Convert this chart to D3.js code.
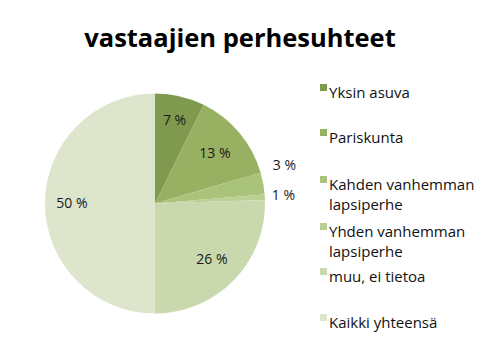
<!DOCTYPE html>
<html><head><meta charset="utf-8">
<script src="https://cdn.jsdelivr.net/npm/d3@7"></script>
<style>body{margin:0;background:#fff}svg{display:block}text{font-family:"Open Sans","Noto Sans",sans-serif}</style>
</head><body>
<svg id="c" width="495" height="354"></svg>
<script>
const title = "vastaajien perhesuhteet";
const categories = ["Yksin asuva","Pariskunta","Kahden vanhemman lapsiperhe","Yhden vanhemman lapsiperhe","muu, ei tietoa","Kaikki yhteensä"];
const legendLines = [["Yksin asuva"],["Pariskunta"],["Kahden vanhemman","lapsiperhe"],["Yhden vanhemman","lapsiperhe"],["muu, ei tietoa"],["Kaikki yhteensä"]];
const values = [7.3, 13.2, 3.2, 0.8, 25.5, 50];
const labels = ["7 %","13 %","3 %","1 %","26 %","50 %"];
const colors = ["#7f9a4e","#97b062","#a9c47a","#b9d095","#c9d9ad","#dde5cd"];

const svg = d3.select("#c");
svg.append("text").attr("x",240).attr("y",47).attr("text-anchor","middle")
  .attr("font-size",25.5).attr("font-weight","bold").attr("fill","#000").text(title);

const cx=155, cy=203.5, r=110;
const pie = d3.pie().sort(null).value(d=>d)(values);
const arc = d3.arc().innerRadius(0).outerRadius(r);
const g = svg.append("g").attr("transform",`translate(${cx},${cy})`);
g.selectAll("path").data(pie).join("path").attr("d",arc).attr("fill",(d,i)=>colors[i]);

const labelRadius = [0.78,0.71,1.2,1.2,0.72,0.755];
const labelShiftX = [0,0,-12,-15,0,0];
const labelShiftY = [0,0,-14,-1,0,0];
g.selectAll("text.l").data(pie).join("text").attr("class","l")
  .attr("transform",(d,i)=>{
    const a=(d.startAngle+d.endAngle)/2; const rr=r*labelRadius[i];
    const x=Math.sin(a)*rr+labelShiftX[i], y=-Math.cos(a)*rr+labelShiftY[i];
    return `translate(${x},${y})`;})
  .attr("text-anchor",(d,i)=> i===2||i===3 ? "start":"middle")
  .attr("dy","0.35em").attr("font-size",14).attr("fill","#1a1a1a")
  .text((d,i)=>labels[i]);

const legendY = [93,138,185,232,277,323];
const lg = svg.append("g");
legendLines.forEach((lines,i)=>{
  lg.append("rect").attr("x",320).attr("y",legendY[i]-9).attr("width",7).attr("height",7).attr("fill",colors[i]);
  lines.forEach((t,j)=>{
    lg.append("text").attr("x",329).attr("y",legendY[i]+j*20).attr("dy","0.35em")
      .attr("font-size",15).attr("fill","#111").text(t);
  });
});
</script>
</body></html>
